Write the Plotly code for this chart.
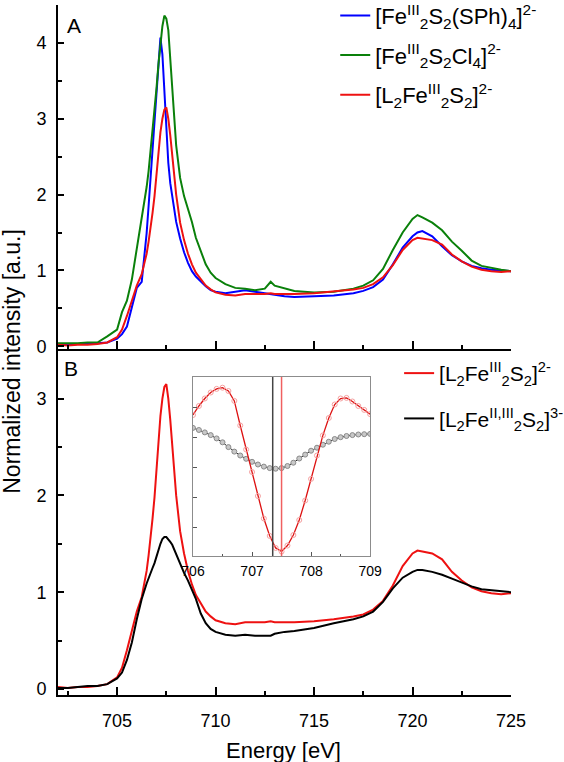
import plotly.graph_objects as go

# ---------------- data ----------------
energy = [702.0, 702.5, 703.0, 703.5, 704.0, 704.5, 705.0, 705.25, 705.5, 705.75,
          706.0, 706.25, 706.5, 706.6, 706.7, 706.8, 706.9, 707.0, 707.1, 707.2,
          707.3, 707.4, 707.5, 707.6, 707.7, 707.8, 707.9, 708.0, 708.2, 708.4,
          708.6, 708.8, 709.0, 709.25, 709.5, 709.75, 710.0, 710.5, 711.0, 711.5,
          712.0, 712.5, 712.8, 713.0, 713.5, 714.0, 715.0, 716.0, 717.0, 717.5,
          718.0, 718.5, 719.0, 719.5, 720.0, 720.25, 720.5, 721.0, 721.5, 722.0,
          722.5, 723.0, 723.5, 724.0, 724.5, 725.0]

fe2s2_sph4 = [0.02, 0.02, 0.03, 0.03, 0.04, 0.05, 0.10, 0.16, 0.26, 0.50,
              0.77, 0.85, 1.49, 1.85, 2.22, 2.62, 3.02, 3.45, 3.80, 4.07,
              3.85, 3.35, 2.80, 2.42, 2.15, 1.96, 1.80, 1.64, 1.42, 1.24,
              1.10, 0.99, 0.92, 0.85, 0.79, 0.74, 0.72, 0.70, 0.72, 0.74,
              0.72, 0.70, 0.69, 0.68, 0.66, 0.65, 0.66, 0.67, 0.70, 0.73,
              0.78, 0.88, 1.08, 1.30, 1.45, 1.50, 1.52, 1.45, 1.32, 1.20,
              1.12, 1.06, 1.03, 1.01, 1.00, 0.99]

fe2s2_cl4 = [0.04, 0.04, 0.04, 0.05, 0.05, 0.13, 0.22, 0.45, 0.60, 0.88,
             1.28, 1.64, 2.10, 2.31, 2.56, 2.81, 3.10, 3.40, 3.72, 4.02,
             4.22, 4.36, 4.32, 4.17, 3.75, 3.35, 2.95, 2.65, 2.22, 1.98,
             1.81, 1.64, 1.43, 1.25, 1.08, 0.97, 0.90, 0.82, 0.77, 0.76,
             0.74, 0.76, 0.85, 0.80, 0.76, 0.73, 0.71, 0.72, 0.76, 0.80,
             0.87, 1.02, 1.27, 1.50, 1.68, 1.73, 1.70, 1.63, 1.53, 1.38,
             1.26, 1.13, 1.06, 1.03, 1.01, 0.99]

l2fe2s2_ox = [0.02, 0.01, 0.02, 0.02, 0.03, 0.05, 0.12, 0.22, 0.40, 0.60,
              0.80, 0.95, 1.22, 1.38, 1.55, 1.76, 1.98, 2.30, 2.60, 2.82,
              3.00, 3.12, 3.15, 3.00, 2.78, 2.50, 2.25, 2.00, 1.63, 1.40,
              1.22, 1.08, 0.97, 0.88, 0.80, 0.75, 0.71, 0.68, 0.67, 0.69,
              0.69, 0.69, 0.70, 0.69, 0.69, 0.69, 0.70, 0.72, 0.75, 0.77,
              0.82, 0.91, 1.07, 1.27, 1.40, 1.43, 1.42, 1.40, 1.34, 1.21,
              1.12, 1.05, 1.01, 0.99, 0.98, 0.99]

l2fe2s2_mixed = [0.01, 0.01, 0.02, 0.03, 0.03, 0.05, 0.11, 0.17, 0.30, 0.48,
                 0.72, 0.93, 1.09, 1.15, 1.20, 1.25, 1.30, 1.37, 1.43, 1.50,
                 1.55, 1.57, 1.57, 1.55, 1.52, 1.49, 1.44, 1.40, 1.30, 1.20,
                 1.12, 1.03, 0.93, 0.78, 0.68, 0.62, 0.59, 0.56, 0.55, 0.56,
                 0.55, 0.55, 0.55, 0.57, 0.59, 0.60, 0.63, 0.68, 0.72, 0.75,
                 0.80, 0.90, 1.04, 1.15, 1.21, 1.23, 1.23, 1.21, 1.18, 1.14,
                 1.10, 1.06, 1.03, 1.02, 1.01, 1.00]

# inset: second-derivative traces (arbitrary units)
inset_energy = [706.0, 706.1, 706.2, 706.3, 706.4, 706.5, 706.6, 706.7, 706.8, 706.9,
                707.0, 707.1, 707.2, 707.3, 707.4, 707.5, 707.6, 707.7, 707.8, 707.9,
                708.0, 708.1, 708.2, 708.3, 708.4, 708.5, 708.6, 708.7, 708.8, 708.9,
                709.0]
inset_ox = [3.75, 4.05, 4.30, 4.50, 4.62, 4.66, 4.55, 4.22, 3.40, 2.60,
            1.85, 1.05, 0.30, -0.28, -0.68, -0.80, -0.60, -0.25, 0.25, 0.90,
            1.62, 2.40, 3.07, 3.65, 4.10, 4.30, 4.32, 4.20, 4.05, 3.92,
            3.78]
inset_mixed = [3.32, 3.25, 3.17, 3.08, 2.97, 2.84, 2.68, 2.53, 2.40, 2.29,
               2.19, 2.10, 2.03, 1.98, 1.96, 1.98, 2.05, 2.16, 2.30, 2.43,
               2.56, 2.66, 2.76, 2.86, 2.95, 3.01, 3.05, 3.08, 3.10, 3.11,
               3.12]
inset_minima = [707.35, 707.5]   # black, red

names_a = ["[Fe<sup>III</sup><sub>2</sub>S<sub>2</sub>(SPh)<sub>4</sub>]<sup>2-</sup>",
           "[Fe<sup>III</sup><sub>2</sub>S<sub>2</sub>Cl<sub>4</sub>]<sup>2-</sup>",
           "[L<sub>2</sub>Fe<sup>III</sup><sub>2</sub>S<sub>2</sub>]<sup>2-</sup>"]
names_b = ["[L<sub>2</sub>Fe<sup>III</sup><sub>2</sub>S<sub>2</sub>]<sup>2-</sup>",
           "[L<sub>2</sub>Fe<sup>II,III</sup><sub>2</sub>S<sub>2</sub>]<sup>3-</sup>"]

BLUE, GREEN, RED, BLACK = "#0000ff", "#0a800a", "#ee1111", "#000000"
FONT = "Liberation Sans, Arial, Helvetica, sans-serif"

fig = go.Figure()

# Panel A
for y, c, n, g in [(fe2s2_sph4, BLUE, names_a[0], "a1"),
                   (fe2s2_cl4, GREEN, names_a[1], "a2"),
                   (l2fe2s2_ox, RED, names_a[2], "a3")]:
    fig.add_trace(go.Scatter(x=energy, y=y, mode="lines", name=n,
                             line=dict(color=c, width=2),
                             xaxis="x", yaxis="y", legend="legend",
                             legendgroup=g))

# Panel B
for y, c, n, g in [(l2fe2s2_ox, RED, names_b[0], "b1"),
                   (l2fe2s2_mixed, BLACK, names_b[1], "b2")]:
    fig.add_trace(go.Scatter(x=energy, y=y, mode="lines", name=n,
                             line=dict(color=c, width=2),
                             xaxis="x2", yaxis="y2", legend="legend2",
                             legendgroup=g))

# Inset
fig.add_trace(go.Scatter(x=inset_energy, y=inset_mixed, mode="lines+markers",
                         line=dict(color="#222222", width=1),
                         marker=dict(symbol="circle", size=5, color="#c8c8c8",
                                     line=dict(color="#8a8a8a", width=1)),
                         xaxis="x3", yaxis="y3", showlegend=False))
fig.add_trace(go.Scatter(x=inset_energy, y=inset_ox, mode="lines+markers",
                         line=dict(color="#dd1111", width=1.3),
                         marker=dict(symbol="circle-open", size=5, color="#f5a0a0",
                                     line=dict(width=1)),
                         xaxis="x3", yaxis="y3", showlegend=False))

for xv, col in zip(inset_minima, ["#444444", "#f06060"]):
    fig.add_shape(type="line", xref="x3", yref="y3 domain", x0=xv, x1=xv, y0=0, y1=1,
                  line=dict(color=col, width=1.5))

main_ax = dict(showline=True, linecolor="black", linewidth=2, ticks="inside",
               ticklen=8, tickwidth=1.5, tickcolor="black", showgrid=False,
               zeroline=False, mirror=False,
               tickfont=dict(family=FONT, size=18, color="black"))

fig.update_layout(
    width=564, height=762,
    margin=dict(l=58, r=53, t=5, b=67, autoexpand=False),
    paper_bgcolor="white", plot_bgcolor="rgba(0,0,0,0)",
    font=dict(family=FONT, color="black"),
    xaxis=dict(main_ax, domain=[0, 1], anchor="y", range=[702, 725], dtick=5,
               tick0=700, showticklabels=False,
               minor=dict(dtick=2.5, tick0=700, ticks="inside", ticklen=4,
                          tickwidth=1.5, tickcolor="black")),
    yaxis=dict(main_ax, domain=[0.501, 1], anchor="x", range=[-0.04, 4.5], dtick=1,
               ticklen=6, ticklabelstandoff=6,
               minor=dict(dtick=0.5, ticks="inside", ticklen=4, tickwidth=1.5,
                          tickcolor="black")),
    xaxis2=dict(main_ax, domain=[0, 1], anchor="y2", range=[702, 725], dtick=5,
                tick0=700, ticklabelstandoff=8,
                minor=dict(dtick=2.5, tick0=700, ticks="inside", ticklen=4,
                           tickwidth=1.5, tickcolor="black")),
    yaxis2=dict(main_ax, domain=[0, 0.499], anchor="x2", range=[-0.062, 3.495],
                dtick=1, ticklen=6, ticklabelstandoff=6,
                minor=dict(dtick=0.5, ticks="inside", ticklen=4, tickwidth=1.5,
                           tickcolor="black")),
    xaxis3=dict(domain=[0.298, 0.689], anchor="y3", range=[706, 709], dtick=1,
                showline=True, mirror=True, linecolor="#8c8c8c", linewidth=1,
                ticks="inside", ticklen=4, tickcolor="#555555", showgrid=False,
                zeroline=False, ticklabelstandoff=2,
                tickfont=dict(family=FONT, size=14, color="black"),
                minor=dict(dtick=0.5, ticks="inside", ticklen=2, tickcolor="#555555")),
    yaxis3=dict(domain=[0.2014, 0.4609], anchor="x3", range=[-0.95, 5.017], dtick=1,
                showline=True, mirror=True, linecolor="#8c8c8c", linewidth=1,
                ticks="inside", ticklen=4, tickcolor="#555555", showgrid=False,
                zeroline=False, showticklabels=False),
    legend=dict(x=0.612, y=1.015, xanchor="left", yanchor="top",
                font=dict(family=FONT, size=22, color="black"),
                bgcolor="rgba(0,0,0,0)", traceorder="grouped", tracegroupgap=8),
    legend2=dict(x=0.753, y=0.4957, xanchor="left", yanchor="top",
                 font=dict(family=FONT, size=21, color="black"),
                 bgcolor="rgba(0,0,0,0)", traceorder="grouped", tracegroupgap=15),
    annotations=[
        dict(text="A", xref="paper", yref="paper", x=0.015, y=0.970,
             xanchor="left", yanchor="middle", showarrow=False,
             font=dict(family=FONT, size=21, color="black")),
        dict(text="B", xref="paper", yref="paper", x=0.008, y=0.473,
             xanchor="left", yanchor="middle", showarrow=False,
             font=dict(family=FONT, size=21, color="black")),
        dict(text="Normalized intensity [a.u.]", xref="paper", yref="paper",
             x=-0.1015, y=0.483, xanchor="center", yanchor="middle", textangle=-90,
             showarrow=False, font=dict(family=FONT, size=23, color="black")),
        dict(text="Energy [eV]", xref="paper", yref="paper", x=0.497, y=-0.081,
             xanchor="center", yanchor="middle", showarrow=False,
             font=dict(family=FONT, size=22, color="black")),
    ],
)

fig.write_html("out.html", config={"displayModeBar": False},
               post_script="document.body.style.margin='0';"
                           "document.body.style.overflow='hidden';")
